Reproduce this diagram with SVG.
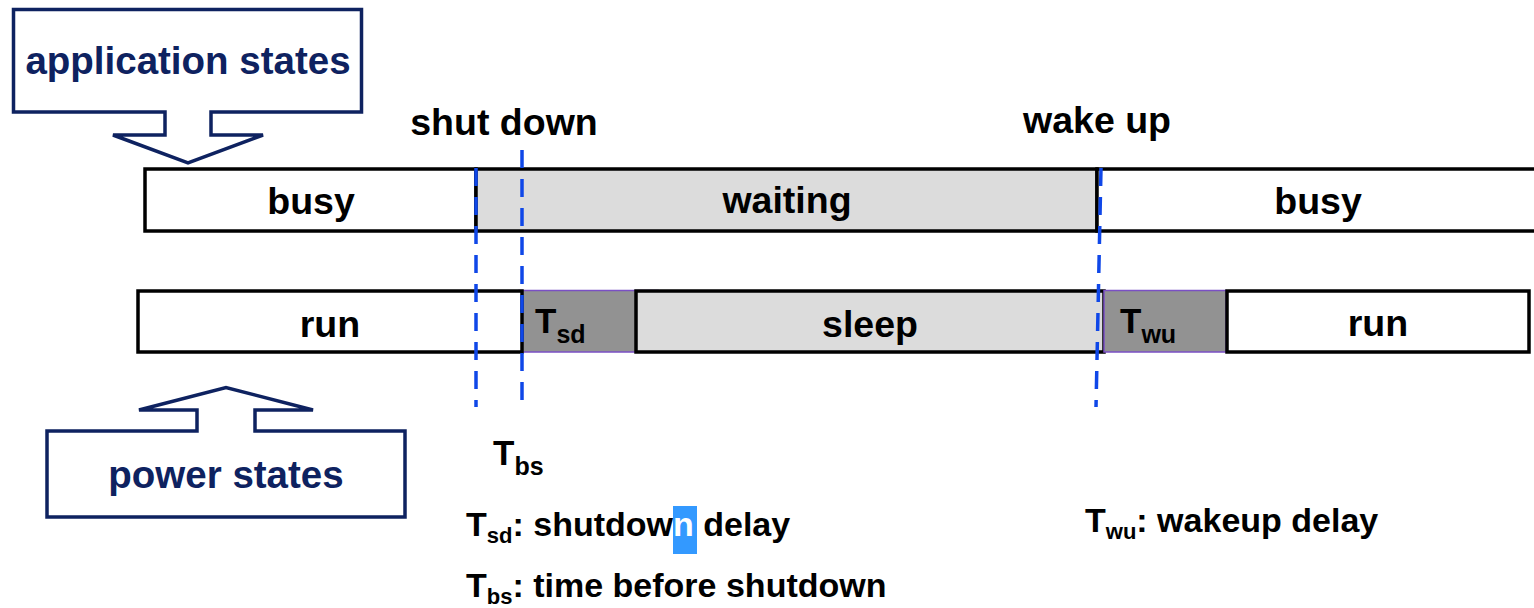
<svg xmlns="http://www.w3.org/2000/svg" width="1534" height="608" viewBox="0 0 1534 608">
<style>
.lbl{font-family:"Liberation Sans",Arial,sans-serif;font-weight:bold;fill:#000}
.big{font-size:37.5px}
.leg{font-size:34px}
.call{font-family:"Liberation Sans",Arial,sans-serif;font-weight:bold;font-size:38.5px;fill:#0e2260}
.callout{fill:#fff;stroke:#0e2260;stroke-width:3.5;stroke-linejoin:miter}
.box{stroke:#000;stroke-width:3.5}
.white{fill:#fff}
.light{fill:#dcdcdc}
.dark{fill:#929292;stroke:#7a4fc4;stroke-width:1.5}
.dash{stroke:#0f47e8;stroke-width:3.5;stroke-dasharray:18 11;fill:none}
</style>
<rect width="1534" height="608" fill="#fff"/>

<g id="app-states">
<path class="callout" d="M13.5,9.5 H361.5 V112 H211 V135 H263 L188,163 L113,135 H165 V112 H13.5 Z"/>
<text class="call" x="188" y="74" text-anchor="middle">application states</text>
</g>

<g id="power-states">
<path class="callout" d="M47,431 H197 V410 H139 L226,387.5 L313,410 H255 V431 H405 V517 H47 Z"/>
<text class="call" x="226" y="488" text-anchor="middle">power states</text>
</g>

<g id="app-row">
<rect class="box white" x="145" y="169" width="331" height="62"/>
<rect class="box light" x="476" y="169" width="621" height="62"/>
<path class="box white" d="M1540,169 H1097 V231 H1540"/>
<text class="lbl big" x="311" y="214" text-anchor="middle">busy</text>
<text class="lbl big" x="787" y="213" text-anchor="middle">waiting</text>
<text class="lbl big" x="1318" y="214" text-anchor="middle">busy</text>
</g>

<g id="power-row">
<rect class="dark" x="519" y="290.5" width="139" height="61.5"/>
<rect class="box light" x="636" y="291" width="468" height="61"/>
<rect class="dark" x="1104" y="290.5" width="122" height="61.5"/>
<rect class="box white" x="1227" y="291" width="302" height="61"/>
<rect class="box white" x="138" y="291" width="384" height="61"/>
<text class="lbl big" x="330" y="337" text-anchor="middle">run</text>
<text class="lbl big" x="870" y="337" text-anchor="middle">sleep</text>
<text class="lbl big" x="1378" y="336" text-anchor="middle">run</text>
<text class="lbl" x="535" y="333" font-size="35">T<tspan font-size="25" dy="10">sd</tspan></text>
<text class="lbl" x="1120" y="333" font-size="35">T<tspan font-size="25" dy="10">wu</tspan></text>
</g>

<g id="events">
<text class="lbl big" x="504" y="135" text-anchor="middle">shut down</text>
<text class="lbl big" x="1097" y="133" text-anchor="middle">wake up</text>
</g>

<g id="connectors">
<line class="dash" x1="476" y1="168" x2="476" y2="407"/>
<line class="dash" x1="522" y1="150" x2="522" y2="405"/>
<line class="dash" x1="1101" y1="168" x2="1096" y2="407"/>
</g>

<g id="legend">
<text class="lbl" x="493" y="465" font-size="35">T<tspan font-size="25" dy="10">bs</tspan></text>
<rect x="673" y="506" width="24" height="48" fill="#3399ff"/>
<text class="lbl leg" x="466" y="536">T<tspan font-size="22" dy="7">sd</tspan><tspan dy="-7">: shutdow</tspan><tspan fill="#fff">n</tspan> delay</text>
<text class="lbl leg" x="1085" y="532">T<tspan font-size="22" dy="7">wu</tspan><tspan dy="-7">: wakeup delay</tspan></text>
<text class="lbl leg" x="466" y="597">T<tspan font-size="22" dy="7">bs</tspan><tspan dy="-7">: time before shutdown</tspan></text>
</g>
</svg>
